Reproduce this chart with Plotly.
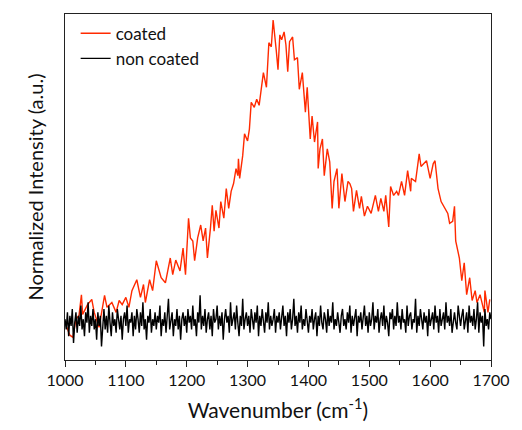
import plotly.graph_objects as go

# Raman spectrum of the coated sample (wavenumber in cm-1, normalized intensity)
coated_wn = [1003, 1008, 1013, 1018, 1023, 1027, 1029, 1037, 1044, 1048, 1056, 1065, 1069, 1077,
             1084, 1089, 1094, 1100, 1105, 1110, 1118, 1124, 1129, 1132, 1139, 1144, 1150, 1153,
             1158, 1165, 1169, 1173, 1177, 1182, 1189, 1194, 1198, 1203, 1206, 1210, 1213, 1218,
             1223, 1227, 1231, 1234, 1239, 1242, 1245, 1248, 1253, 1256, 1261, 1265, 1269, 1273,
             1277, 1281, 1284, 1285, 1287, 1292, 1295, 1300, 1303, 1306, 1311, 1315, 1319, 1326,
             1331, 1335, 1339, 1342, 1347, 1350, 1353, 1356, 1360, 1363, 1366, 1369, 1374, 1377,
             1382, 1385, 1390, 1395, 1398, 1403, 1406, 1410, 1415, 1416, 1419, 1423, 1426, 1431,
             1435, 1439, 1442, 1447, 1450, 1455, 1460, 1465, 1468, 1471, 1474, 1479, 1484, 1487,
             1492, 1497, 1503, 1510, 1515, 1519, 1524, 1527, 1532, 1535, 1540, 1545, 1548, 1553,
             1558, 1563, 1568, 1569, 1576, 1582, 1585, 1589, 1594, 1600, 1605, 1608, 1613, 1618,
             1624, 1629, 1632, 1637, 1640, 1642, 1648, 1652, 1656, 1660, 1665, 1669, 1674, 1677,
             1682, 1689, 1690, 1695, 1698]
coated_int = [0.096, 0.073, 0.067, 0.120, 0.131, 0.192, 0.134, 0.163, 0.178, 0.140, 0.096, 0.190,
              0.155, 0.169, 0.140, 0.175, 0.163, 0.184, 0.155, 0.204, 0.236, 0.184, 0.222, 0.169,
              0.236, 0.204, 0.292, 0.271, 0.242, 0.227, 0.265, 0.300, 0.251, 0.294, 0.262, 0.329,
              0.251, 0.417, 0.359, 0.350, 0.292, 0.359, 0.397, 0.350, 0.388, 0.300, 0.388, 0.455,
              0.379, 0.440, 0.388, 0.466, 0.417, 0.504, 0.446, 0.496, 0.519, 0.563, 0.542, 0.592,
              0.534, 0.601, 0.665, 0.644, 0.679, 0.758, 0.743, 0.767, 0.749, 0.845, 0.802, 0.933,
              0.921, 1.000, 0.913, 0.854, 0.956, 0.942, 0.965, 0.927, 0.848, 0.936, 0.950, 0.883,
              0.889, 0.796, 0.845, 0.729, 0.802, 0.650, 0.717, 0.641, 0.700, 0.563, 0.621, 0.650,
              0.542, 0.621, 0.583, 0.446, 0.525, 0.563, 0.446, 0.548, 0.466, 0.525, 0.519, 0.504,
              0.437, 0.499, 0.446, 0.481, 0.423, 0.452, 0.431, 0.484, 0.437, 0.475, 0.437, 0.484,
              0.391, 0.510, 0.484, 0.496, 0.484, 0.525, 0.484, 0.557, 0.496, 0.534, 0.525, 0.606,
              0.569, 0.577, 0.586, 0.534, 0.577, 0.586, 0.504, 0.466, 0.446, 0.431, 0.402, 0.408,
              0.452, 0.350, 0.300, 0.233, 0.286, 0.192, 0.242, 0.175, 0.204, 0.169, 0.192, 0.140,
              0.204, 0.140, 0.178]

# Uncoated reference: flat noisy baseline sampled every 2 cm-1 from 1000 to 1700
plain_wn = list(range(1000, 1701, 2))
plain_int = [
    0.12, 0.09, 0.14, 0.07, 0.13, 0.10, 0.15, 0.05, 0.11, 0.14, 0.08, 0.13, 0.10, 0.16, 0.09, 0.12, 0.07, 0.14, 0.11, 0.17, 0.08, 0.13, 0.10, 0.15, 0.09,
    0.12, 0.06, 0.14, 0.10, 0.13, 0.04, 0.11, 0.15, 0.09, 0.13, 0.08, 0.16, 0.11, 0.07, 0.14, 0.10, 0.12, 0.08, 0.15, 0.11, 0.09, 0.13, 0.06, 0.12, 0.14,
    0.10, 0.16, 0.08, 0.12, 0.11, 0.14, 0.07, 0.13, 0.09, 0.15, 0.12, 0.08, 0.14, 0.10, 0.17, 0.09, 0.12, 0.06, 0.13, 0.11, 0.15, 0.08, 0.12, 0.10, 0.14,
    0.09, 0.13, 0.11, 0.16, 0.07, 0.12, 0.10, 0.14, 0.08, 0.13, 0.18, 0.09, 0.11, 0.14, 0.07, 0.12, 0.10, 0.15, 0.09, 0.13, 0.06, 0.12, 0.14, 0.10, 0.13,
    0.08, 0.15, 0.11, 0.13, 0.09, 0.16, 0.10, 0.12, 0.07, 0.14, 0.11, 0.19, 0.09, 0.13, 0.10, 0.15, 0.08, 0.12, 0.14, 0.09, 0.13, 0.07, 0.15, 0.11, 0.12,
    0.16, 0.09, 0.13, 0.10, 0.14, 0.06, 0.12, 0.15, 0.11, 0.13, 0.08, 0.17, 0.10, 0.12, 0.14, 0.09, 0.16, 0.11, 0.07, 0.13, 0.10, 0.18, 0.09, 0.12, 0.14,
    0.10, 0.13, 0.08, 0.15, 0.12, 0.09, 0.14, 0.11, 0.16, 0.07, 0.13, 0.10, 0.15, 0.12, 0.08, 0.14, 0.11, 0.17, 0.09, 0.13, 0.10, 0.12, 0.15, 0.08, 0.13,
    0.11, 0.14, 0.09, 0.12, 0.16, 0.10, 0.13, 0.07, 0.14, 0.11, 0.15, 0.09, 0.12, 0.18, 0.10, 0.13, 0.08, 0.14, 0.11, 0.16, 0.09, 0.12, 0.10, 0.15, 0.11,
    0.08, 0.13, 0.11, 0.15, 0.09, 0.12, 0.14, 0.07, 0.13, 0.10, 0.16, 0.11, 0.09, 0.14, 0.12, 0.08, 0.15, 0.10, 0.13, 0.11, 0.17, 0.09, 0.12, 0.10, 0.14,
    0.11, 0.08, 0.13, 0.15, 0.10, 0.12, 0.09, 0.14, 0.11, 0.16, 0.08, 0.13, 0.10, 0.12, 0.15, 0.07, 0.13, 0.11, 0.14, 0.09, 0.12, 0.16, 0.10, 0.13, 0.08,
    0.14, 0.10, 0.12, 0.17, 0.09, 0.13, 0.11, 0.15, 0.08, 0.12, 0.14, 0.10, 0.16, 0.09, 0.13, 0.11, 0.07, 0.14, 0.12, 0.15, 0.09, 0.13, 0.10, 0.17, 0.11,
    0.13, 0.09, 0.15, 0.11, 0.12, 0.08, 0.16, 0.10, 0.13, 0.14, 0.09, 0.12, 0.11, 0.18, 0.08, 0.13, 0.10, 0.15, 0.12, 0.09, 0.14, 0.11, 0.13, 0.07, 0.15,
    0.10, 0.12, 0.14, 0.09, 0.16, 0.11, 0.13, 0.08, 0.15, 0.10, 0.12, 0.14, 0.09, 0.17, 0.11, 0.13, 0.10, 0.15, 0.08, 0.12, 0.14, 0.11, 0.09, 0.16, 0.12,
    0.10, 0.13, 0.15, 0.09, 0.12, 0.14, 0.08, 0.16, 0.11, 0.13, 0.10, 0.15, 0.09, 0.12, 0.17, 0.08, 0.14, 0.11, 0.13, 0.04, 0.15, 0.10, 0.12, 0.09, 0.14,
    0.12,
]

x_ticks = [1000, 1100, 1200, 1300, 1400, 1500, 1600, 1700]

FONT = "Lato, 'Open Sans', sans-serif"

fig = go.Figure()
fig.add_trace(go.Scatter(x=coated_wn, y=coated_int, mode="lines", name="coated",
                         line=dict(color="#ff2a00", width=1.4)))
fig.add_trace(go.Scatter(x=plain_wn, y=plain_int, mode="lines", name="non coated",
                         line=dict(color="#000000", width=1.4)))

fig.update_layout(
    width=522, height=430,
    margin=dict(l=65, r=23, t=14, b=67),
    paper_bgcolor="white", plot_bgcolor="white",
    font=dict(family=FONT, color="#111111"),
    showlegend=True,
    legend=dict(x=0.025, y=0.995, xanchor="left", yanchor="top",
                bgcolor="rgba(0,0,0,0)", font=dict(size=17, family=FONT),
                tracegroupgap=0, itemwidth=30),
)
fig.update_xaxes(
    range=[1000, 1700], tickvals=x_ticks, ticktext=[str(v) for v in x_ticks],
    ticks="outside", ticklen=6, tickwidth=1.3, tickcolor="#222",
    minor=dict(ticks="outside", ticklen=4, dtick=50, tick0=1000, tickcolor="#222", tickwidth=1.2),
    showline=True, linecolor="#222", linewidth=1.3, mirror=True,
    showgrid=False, zeroline=False,
    tickfont=dict(size=16, family=FONT),
    title=dict(text="Wavenumber (cm<sup>-1</sup>)", font=dict(size=21, family=FONT), standoff=14),
)
fig.update_yaxes(
    range=[0, 1.0175], showticklabels=False, ticks="",
    showline=True, linecolor="#222", linewidth=1.3, mirror=True,
    showgrid=False, zeroline=False,
    title=dict(text="Normalized Intensity (a.u.)", font=dict(size=20, family=FONT), standoff=14),
)

fig.write_html("out.html")
